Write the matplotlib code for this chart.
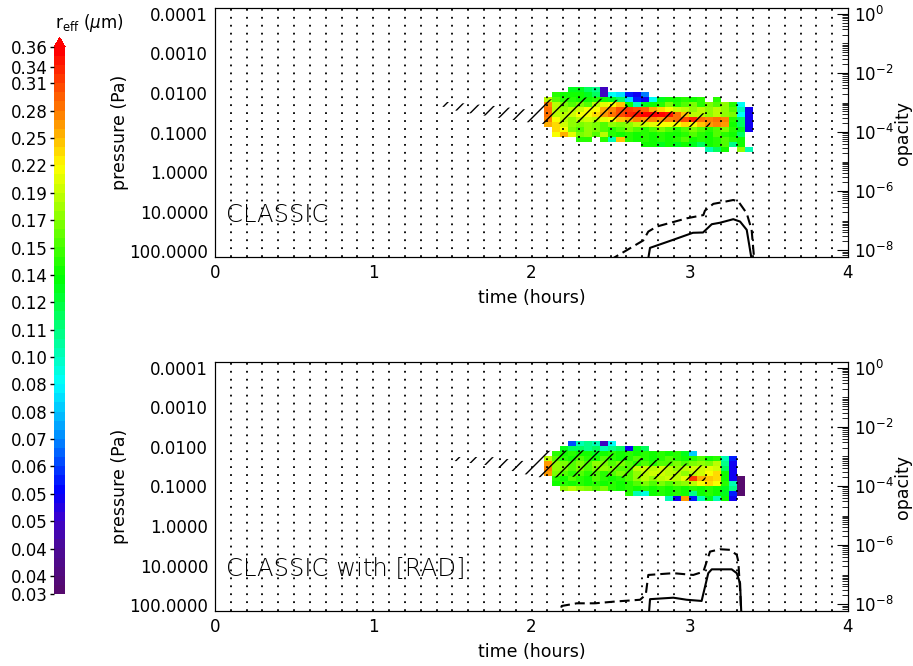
import numpy as np
import matplotlib
matplotlib.use('Agg')
import matplotlib.pyplot as plt
import matplotlib.colors as mcolors
from matplotlib.cm import ScalarMappable
from matplotlib.ticker import FixedLocator, NullLocator, NullFormatter, LogLocator, FormatStrFormatter

plt.rcParams['font.family'] = ['DejaVu Sans', 'Noto Sans']
plt.rcParams['hatch.linewidth'] = 1.0

nan = np.nan

# ---- grid of the r_eff maps (time in hours, pressure in Pa) ----
t_edges = np.linspace(2.08, 3.40, 27)
p_edges = 10 ** np.linspace(-2.16, -0.515, 14)

# r_eff (um), CLASSIC run, rows from low pressure (top) to high pressure
reff_classic = np.array([
    [nan, nan, nan, 0.13, 0.13, 0.12, 0.11, 0.05, nan, nan, nan, nan, nan, nan, nan, nan, nan, nan, nan, nan, nan, nan, nan, nan, nan, nan],
    [nan, 0.15, 0.14, 0.14, 0.14, 0.13, 0.12, 0.05, 0.09, 0.085, 0.06, 0.055, 0.07, nan, nan, nan, nan, nan, nan, nan, nan, nan, nan, nan, nan, nan],
    [0.19, 0.16, 0.15, 0.15, 0.14, 0.14, 0.15, 0.14, 0.13, 0.12, 0.085, 0.06, 0.055, 0.09, 0.13, 0.14, 0.14, 0.15, 0.14, 0.15, nan, 0.15, nan, nan, nan, nan],
    [0.27, 0.19, 0.17, 0.16, 0.17, 0.16, 0.19, 0.21, 0.22, 0.24, 0.14, 0.10, 0.13, 0.14, 0.15, 0.17, 0.15, 0.16, 0.17, 0.15, 0.17, 0.16, 0.18, 0.15, 0.09, nan],
    [0.28, 0.19, 0.18, 0.19, 0.20, 0.22, 0.22, 0.25, 0.27, 0.30, 0.31, 0.30, 0.29, 0.25, 0.23, 0.22, 0.20, 0.19, 0.18, 0.19, 0.18, 0.19, 0.18, 0.16, 0.10, 0.055],
    [0.28, 0.19, 0.19, 0.20, 0.22, 0.22, 0.23, 0.26, 0.28, 0.30, 0.33, 0.34, 0.35, 0.35, 0.35, 0.34, 0.28, 0.24, 0.19, 0.19, 0.18, 0.19, 0.18, 0.17, 0.09, 0.055],
    [0.27, 0.22, 0.19, 0.18, 0.19, 0.20, 0.19, 0.21, 0.22, 0.24, 0.25, 0.27, 0.26, 0.27, 0.26, 0.27, 0.28, 0.30, 0.33, 0.28, 0.27, 0.28, 0.27, 0.15, 0.12, 0.055],
    [0.25, 0.23, 0.20, 0.18, 0.17, 0.18, 0.17, 0.16, 0.18, 0.17, 0.18, 0.19, 0.20, 0.21, 0.22, 0.22, 0.22, 0.23, 0.22, 0.24, 0.26, 0.27, 0.26, 0.14, 0.12, 0.055],
    [nan, 0.23, 0.22, 0.17, 0.16, 0.18, 0.17, 0.16, 0.15, 0.16, 0.17, 0.16, 0.15, 0.16, 0.17, 0.16, 0.15, 0.16, 0.17, 0.16, 0.15, 0.16, 0.17, 0.15, 0.13, 0.055],
    [nan, 0.22, 0.25, 0.21, 0.17, 0.18, 0.16, 0.19, 0.15, 0.14, 0.15, 0.14, 0.15, 0.14, 0.15, 0.14, 0.14, 0.15, 0.16, 0.15, 0.14, 0.16, 0.15, 0.14, 0.12, nan],
    [nan, nan, nan, nan, 0.15, 0.15, nan, 0.15, 0.10, 0.24, 0.15, 0.14, 0.15, 0.14, 0.15, 0.14, 0.15, 0.16, 0.14, 0.15, 0.14, 0.15, 0.16, 0.15, 0.14, nan],
    [nan, nan, nan, nan, nan, nan, nan, nan, nan, nan, nan, nan, 0.14, 0.14, 0.13, 0.14, 0.13, 0.14, 0.13, 0.12, 0.14, 0.15, 0.16, 0.11, 0.14, nan],
    [nan, nan, nan, nan, nan, nan, nan, nan, nan, nan, nan, nan, nan, nan, nan, nan, nan, nan, nan, nan, 0.10, 0.12, 0.14, nan, 0.18, 0.10],
])

# r_eff (um), CLASSIC with [RAD]
reff_rad = np.array([
    [nan, nan, nan, 0.065, 0.10, 0.11, 0.10, 0.05, 0.09, nan, nan, nan, nan, nan, nan, nan, nan, nan, nan, nan, nan, nan, nan, nan, nan, nan],
    [nan, nan, 0.13, 0.12, 0.12, 0.11, 0.12, 0.10, 0.11, 0.12, 0.055, 0.13, 0.12, nan, nan, nan, nan, nan, nan, nan, nan, nan, nan, nan, nan, nan],
    [nan, 0.15, 0.14, 0.15, 0.14, 0.14, 0.13, 0.14, 0.15, 0.14, 0.15, 0.14, 0.15, 0.14, 0.15, 0.14, 0.15, 0.13, 0.08, nan, nan, nan, nan, nan, nan, nan],
    [0.19, 0.16, 0.15, 0.14, 0.16, 0.15, 0.14, 0.16, 0.15, 0.14, 0.15, 0.16, 0.15, 0.14, 0.15, 0.16, 0.15, 0.14, 0.15, 0.16, 0.14, 0.15, 0.10, 0.06, nan, nan],
    [0.26, 0.18, 0.17, 0.16, 0.17, 0.16, 0.18, 0.17, 0.16, 0.17, 0.16, 0.15, 0.16, 0.15, 0.16, 0.16, 0.17, 0.16, 0.17, 0.18, 0.17, 0.19, 0.11, 0.055, nan, nan],
    [0.27, 0.18, 0.17, 0.16, 0.17, 0.16, 0.17, 0.18, 0.17, 0.16, 0.16, 0.19, 0.20, 0.19, 0.20, 0.19, 0.18, 0.19, 0.20, 0.20, 0.21, 0.20, 0.12, 0.055, nan, nan],
    [0.26, 0.17, 0.16, 0.15, 0.16, 0.15, 0.16, 0.15, 0.16, 0.17, 0.16, 0.18, 0.19, 0.20, 0.20, 0.19, 0.19, 0.18, 0.19, 0.20, 0.22, 0.23, 0.14, 0.055, nan, nan],
    [nan, 0.15, 0.14, 0.16, 0.15, 0.14, 0.16, 0.15, 0.14, 0.15, 0.16, 0.18, 0.19, 0.18, 0.19, 0.20, 0.19, 0.21, 0.31, 0.25, 0.24, 0.23, 0.14, 0.055, 0.037, nan],
    [nan, 0.14, 0.15, 0.14, 0.15, 0.14, 0.15, 0.14, 0.15, 0.14, 0.15, 0.16, 0.17, 0.16, 0.17, 0.16, 0.17, 0.18, 0.19, 0.22, 0.23, 0.22, 0.15, 0.10, 0.037, nan],
    [nan, nan, 0.18, 0.19, 0.18, 0.17, 0.16, 0.17, 0.15, 0.14, 0.15, 0.14, 0.15, 0.14, 0.15, 0.14, 0.15, 0.14, 0.15, 0.14, 0.15, 0.14, 0.13, 0.11, 0.037, nan],
    [nan, nan, nan, nan, nan, nan, nan, nan, nan, nan, 0.15, 0.10, 0.095, 0.14, 0.15, 0.14, 0.15, 0.14, 0.11, 0.14, 0.15, 0.14, 0.13, 0.06, 0.037, nan],
    [nan, nan, nan, nan, nan, nan, nan, nan, nan, nan, nan, nan, nan, nan, nan, 0.10, 0.055, 0.26, 0.06, 0.10, 0.13, 0.10, 0.14, 0.055, nan, nan],
    [nan] * 26,
])

# hatched (supersaturated) region: time, upper and lower pressure (Pa)
hatch_t_classic = [1.40, 1.55, 1.75, 2.00, 2.08, 2.30, 2.55, 2.65, 3.00, 3.13]
hatch_ptop_classic = [0.016, 0.018, 0.021, 0.027, 0.015, 0.0126, 0.015, 0.027, 0.030, 0.034]
hatch_pbot_classic = [0.020, 0.030, 0.040, 0.057, 0.061, 0.057, 0.054, 0.065, 0.073, 0.073]

hatch_t_rad = [1.45, 1.75, 2.00, 2.08, 2.40, 2.60, 2.90, 3.10]
hatch_ptop_rad = [0.018, 0.018, 0.024, 0.0126, 0.012, 0.017, 0.024, 0.030]
hatch_pbot_rad = [0.021, 0.030, 0.054, 0.061, 0.054, 0.061, 0.069, 0.073]

# opacity curves (log10)
solid_t_classic = [2.728, 2.749, 2.894, 3.020, 3.084, 3.139, 3.191, 3.275, 3.318, 3.360, 3.40]
solid_tau_classic = [-8.6, -7.92, -7.65, -7.41, -7.40, -7.12, -7.07, -6.95, -7.03, -7.31, -8.6]
dash_t_classic = [2.412, 2.706, 2.738, 2.791, 2.981, 3.086, 3.096, 3.149, 3.191, 3.275, 3.307, 3.360, 3.391, 3.412]
dash_tau_classic = [-8.6, -7.67, -7.37, -7.20, -6.92, -6.81, -6.66, -6.43, -6.39, -6.30, -6.35, -6.75, -7.31, -8.6]

solid_t_rad = [2.738, 2.749, 2.896, 2.981, 3.075, 3.117, 3.139, 3.265, 3.297, 3.318, 3.328]
solid_tau_rad = [-8.6, -7.83, -7.78, -7.85, -7.89, -6.95, -6.82, -6.82, -6.95, -7.29, -8.6]
dash_t_rad = [2.159, 2.191, 2.286, 2.401, 2.528, 2.686, 2.722, 2.738, 2.896, 3.022, 3.086, 3.128, 3.191, 3.254, 3.297, 3.307, 3.318, 3.328]
dash_tau_rad = [-8.6, -8.06, -7.97, -7.97, -7.91, -7.85, -7.68, -7.01, -6.95, -7.01, -6.90, -6.22, -6.14, -6.16, -6.33, -6.56, -7.52, -8.6]

# colour bar
cbar_labels = ['0.03', '0.04', '0.04', '0.05', '0.05', '0.06', '0.07', '0.08', '0.08', '0.10', '0.11',
               '0.12', '0.14', '0.15', '0.17', '0.19', '0.22', '0.25', '0.28', '0.31', '0.34', '0.36']
cbar_pos = np.r_[0.0, 0.033 + 0.05 * np.arange(19), 0.963, 1.0]

cmap = mcolors.LinearSegmentedColormap.from_list('reff', [
    (0.0, '#560a6e'), (0.083, '#4b0a9a'), (0.133, '#3a00d0'), (0.184, '#0000ff'),
    (0.283, '#008cff'), (0.383, '#00ffff'), (0.58, '#00ff00'), (0.785, '#ffff00'),
    (0.884, '#ff8000'), (1.0, '#ff0000')]).resampled(60)
norm = mcolors.LogNorm(vmin=0.0371, vmax=0.360)

fig = plt.figure(figsize=(9.13, 6.66), dpi=100)


def draw_panel(rect, reff, h_t, h_top, h_bot, s_t, s_tau, d_t, d_tau, name):
    ax = fig.add_axes(rect)
    ax.pcolormesh(t_edges, p_edges, np.ma.masked_invalid(reff), cmap=cmap, norm=norm, zorder=1)
    for x in np.arange(0.1, 3.95, 0.1):
        ax.axvline(x, color='k', lw=1.3, ls=(0, (1, 3.4)), zorder=2)
    ax.fill_between(h_t, h_top, h_bot, facecolor='none', edgecolor='k', hatch='//', linewidth=0, zorder=3)
    ax.set_yscale('log')
    ax.set_ylim(10 ** 2.15, 10 ** -4.15)
    ax.set_xlim(0, 4)
    ax.yaxis.set_major_locator(FixedLocator(10.0 ** np.arange(-4, 3)))
    ax.yaxis.set_major_formatter(FormatStrFormatter('%.4f'))
    ax.yaxis.set_minor_locator(NullLocator())
    ax.set_xticks([0, 1, 2, 3, 4])
    ax.tick_params(axis='both', length=0, labelsize=12, pad=5)
    ax.set_xlabel('time (hours)', fontsize=12.5, labelpad=5)
    ax.text(0.0174, 0.17, name, transform=ax.transAxes, fontsize=17.5, fontweight='ultralight',
            va='center', ha='left')

    ax2 = ax.twinx()
    ax2.set_yscale('log')
    ax2.set_ylim(10 ** -8.23, 10 ** 0.2)
    ax2.plot(s_t, 10 ** np.array(s_tau), color='k', lw=1.5)
    ax2.plot(d_t, 10 ** np.array(d_tau), color='k', lw=1.5, ls=(0, (4.8, 2.4)))
    ax2.yaxis.set_major_locator(FixedLocator(10.0 ** np.arange(-8, 1, 2)))
    ax2.yaxis.set_minor_locator(LogLocator(base=10, subs=np.arange(1, 10), numticks=40))
    ax2.yaxis.set_minor_formatter(NullFormatter())
    ax2.tick_params(axis='y', which='major', direction='in', length=8, labelsize=12, pad=4)
    ax2.tick_params(axis='y', which='minor', direction='in', length=4)
    return ax


draw_panel([0.2355, 0.6141, 0.6933, 0.3739], reff_classic, hatch_t_classic, hatch_ptop_classic,
           hatch_pbot_classic, solid_t_classic, solid_tau_classic, dash_t_classic, dash_tau_classic, 'CLASSIC')
draw_panel([0.2355, 0.0826, 0.6933, 0.3739], reff_rad, hatch_t_rad, hatch_ptop_rad,
           hatch_pbot_rad, solid_t_rad, solid_tau_rad, dash_t_rad, dash_tau_rad, 'CLASSIC with [RAD]')

for yc in (0.801, 0.2695):
    fig.text(0.131, yc, 'pressure (Pa)', rotation=90, fontsize=12.5, ha='center', va='center')
    fig.text(0.989, yc, 'opacity', rotation=90, fontsize=12.5, ha='center', va='center')

# colour bar on the left
cax = fig.add_axes([0.0595, 0.1081, 0.0117, 0.8353])
cb = fig.colorbar(ScalarMappable(norm=norm, cmap=cmap), cax=cax, extend='max', extendfrac=0.0165)
cb.minorticks_off()
cb.set_ticks(norm.inverse(cbar_pos))
cb.set_ticklabels(cbar_labels)
cb.outline.set_visible(False)
cax.yaxis.set_ticks_position('left')
cax.tick_params(axis='y', length=3, width=1, labelsize=12, pad=2)
fig.text(0.060, 1 - 23 / 666, r'r$_{\rm eff}$ ($\mu$m)', fontsize=12, ha='left', va='center')

fig.savefig('out.png', dpi=100)
